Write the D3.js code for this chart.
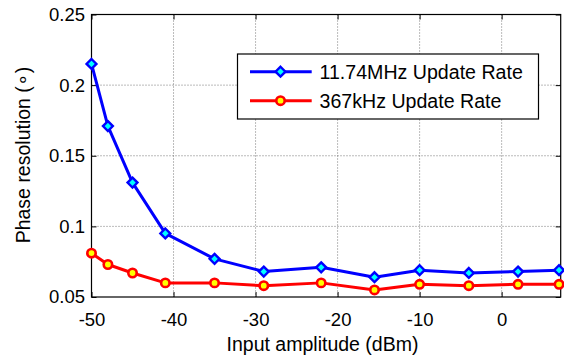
<!DOCTYPE html>
<html>
<head>
<meta charset="utf-8">
<script src="https://cdn.jsdelivr.net/npm/d3@7"></script>
<style>
  html, body { margin: 0; padding: 0; background: #fff; }
  svg { display: block; font-family: "Liberation Sans", Arial, sans-serif; }
</style>
</head>
<body>
<svg id="chart" width="564" height="356"></svg>
<script>
// Input amplitude (dBm) sampled for both update rates
const amplitude = [-50, -48, -45, -41, -35, -29, -22, -15.5, -10, -4, 2, 7];
// Phase resolution (degrees) at 11.74 MHz update rate
const fastRate = [0.215, 0.171, 0.131, 0.095, 0.077, 0.068, 0.071, 0.064, 0.069, 0.067, 0.068, 0.069];
// Phase resolution (degrees) at 367 kHz update rate
const slowRate = [0.081, 0.073, 0.067, 0.060, 0.060, 0.058, 0.060, 0.055, 0.059, 0.058, 0.059, 0.059];

const xTicks = [-50, -40, -30, -20, -10, 0];
const xTickLabels = ["-50", "-40", "-30", "-20", "-10", "0"];
const yTicks = [0.05, 0.1, 0.15, 0.2, 0.25];
const yTickLabels = ["0.05", "0.1", "0.15", "0.2", "0.25"];
const seriesNames = ["11.74MHz Update Rate", "367kHz Update Rate"];

const svg = d3.select("#chart");
const plot = { left: 91.5, right: 560.7, top: 14.5, bottom: 297 };

const x = d3.scaleLinear().domain([-50, 7.2]).range([plot.left, plot.right]);
const y = d3.scaleLinear().domain([0.05, 0.25]).range([plot.bottom, plot.top]);

// dotted grid
const grid = svg.append("g").attr("stroke", "#555").attr("stroke-width", 0.8)
  .attr("stroke-dasharray", "1,2").attr("fill", "none");
grid.selectAll("line.vx").data(xTicks.slice(1)).join("line")
  .attr("x1", d => x(d)).attr("x2", d => x(d))
  .attr("y1", plot.top).attr("y2", plot.bottom);
grid.selectAll("line.hy").data(yTicks.slice(1, -1)).join("line")
  .attr("x1", plot.left).attr("x2", plot.right)
  .attr("y1", d => y(d)).attr("y2", d => y(d));

// axes with inward ticks on all four sides
const tickLen = 5;
const fs = 18.5;
const bottomAxis = svg.append("g").attr("transform", `translate(0,${plot.bottom})`)
  .call(d3.axisBottom(x).tickValues(xTicks).tickSizeInner(-tickLen).tickSizeOuter(0).tickPadding(16)
    .tickFormat((d, i) => xTickLabels[i]));
const topAxis = svg.append("g").attr("transform", `translate(0,${plot.top})`)
  .call(d3.axisTop(x).tickValues(xTicks).tickSizeInner(-tickLen).tickSizeOuter(0).tickFormat(""));
const leftAxis = svg.append("g").attr("transform", `translate(${plot.left},0)`)
  .call(d3.axisLeft(y).tickValues(yTicks).tickSizeInner(-tickLen).tickSizeOuter(0).tickPadding(6.5)
    .tickFormat((d, i) => yTickLabels[i]));
const rightAxis = svg.append("g").attr("transform", `translate(${plot.right},0)`)
  .call(d3.axisRight(y).tickValues(yTicks).tickSizeInner(-tickLen).tickSizeOuter(0).tickFormat(""));

[bottomAxis, topAxis, leftAxis, rightAxis].forEach(g => {
  g.select(".domain").remove();
  g.selectAll(".tick line").attr("stroke", "#000").attr("stroke-width", 1);
  g.selectAll(".tick text").attr("fill", "#000").attr("font-size", fs)
    .attr("font-family", "'Liberation Sans', Arial, sans-serif");
});
bottomAxis.selectAll(".tick text").attr("dy", "0.71em");

// plot box
svg.append("rect").attr("x", plot.left).attr("y", plot.top)
  .attr("width", plot.right - plot.left).attr("height", plot.bottom - plot.top)
  .attr("fill", "none").attr("stroke", "#000").attr("stroke-width", 1.2);

const line = d3.line().x(d => x(d[0])).y(d => y(d[1]));
const fastPts = amplitude.map((a, i) => [a, fastRate[i]]);
const slowPts = amplitude.map((a, i) => [a, slowRate[i]]);

const diamond = d3.symbol().type(d3.symbolDiamond2).size(62);

function drawSeries(pts, color, markerFn) {
  svg.append("path").datum(pts).attr("d", line)
    .attr("fill", "none").attr("stroke", color).attr("stroke-width", 3)
    .attr("stroke-linejoin", "round");
  const g = svg.append("g");
  pts.forEach(p => markerFn(g, x(p[0]), y(p[1])));
}

function diamondMarker(g, cx, cy) {
  g.append("path").attr("d", diamond()).attr("transform", `translate(${cx},${cy})`)
    .attr("fill", "#00ffff").attr("stroke", "#0000ff").attr("stroke-width", 2.4);
}
function circleMarker(g, cx, cy) {
  g.append("circle").attr("cx", cx).attr("cy", cy).attr("r", 4.2)
    .attr("fill", "#ffff00").attr("stroke", "#ff0000").attr("stroke-width", 2.6);
}

drawSeries(slowPts, "#ff0000", circleMarker);
drawSeries(fastPts, "#0000ff", diamondMarker);

// legend
const lg = svg.append("g");
lg.append("rect").attr("x", 237.5).attr("y", 54).attr("width", 301).attr("height", 65)
  .attr("fill", "#fff").attr("stroke", "#000").attr("stroke-width", 1.2);
const legendRows = [
  { name: seriesNames[0], color: "#0000ff", marker: diamondMarker, yy: 71.7 },
  { name: seriesNames[1], color: "#ff0000", marker: circleMarker, yy: 100.7 }
];
legendRows.forEach(r => {
  lg.append("line").attr("x1", 250).attr("x2", 311.7).attr("y1", r.yy).attr("y2", r.yy)
    .attr("stroke", r.color).attr("stroke-width", 3);
  r.marker(lg, 280.5, r.yy);
  lg.append("text").attr("x", 319.5).attr("y", r.yy).attr("dy", "0.36em")
    .attr("font-size", 19.6).attr("fill", "#000").text(r.name);
});

// axis titles
svg.append("text").attr("x", 322.5).attr("y", 350.5).attr("text-anchor", "middle")
  .attr("font-size", 19.5).attr("fill", "#000").text("Input amplitude (dBm)");
svg.append("text").attr("transform", "translate(29.5,155) rotate(-90)")
  .attr("text-anchor", "middle").attr("font-size", 19.5).attr("fill", "#000")
  .text("Phase resolution (\u2218)");
</script>
</body>
</html>
